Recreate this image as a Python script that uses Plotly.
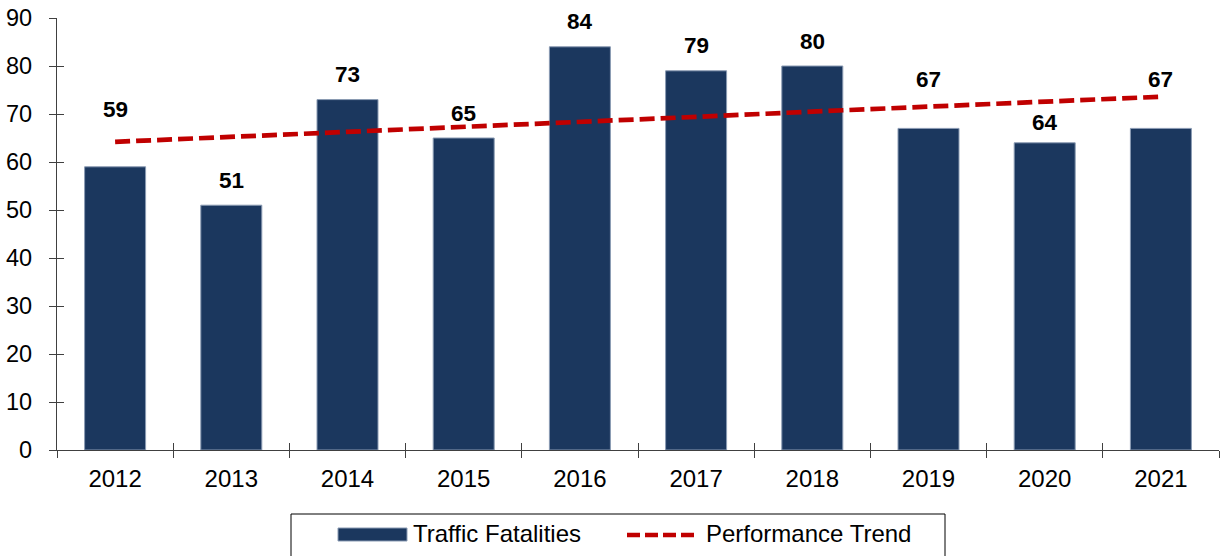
import plotly.graph_objects as go

years = ["2012", "2013", "2014", "2015", "2016", "2017", "2018", "2019", "2020", "2021"]
fatalities = [59, 51, 73, 65, 84, 79, 80, 67, 64, 67]
trend = [64.2, 65.2, 66.3, 67.3, 68.4, 69.4, 70.5, 71.5, 72.6, 73.6]
y_ticks = [0, 10, 20, 30, 40, 50, 60, 70, 80, 90]
series_names = ["Traffic Fatalities", "Performance Trend"]

label_shift = [57, 25, 25, 25, 25, 25, 25, 49, 20, 49]

FONT = "Liberation Sans, Arial, sans-serif"
BAR = "#1B375E"
RED = "#C00000"
AX = "#404040"

W, H = 1220, 556
L, T, R, B = 57, 18, 1, 106   # plot area: x 57..1219, y 18..450
PW, PH = W - L - R, H - T - B


def px(xpix):
    return (xpix - L) / PW


def py(ypix):
    return (H - B - ypix) / PH


fig = go.Figure()
fig.add_trace(go.Bar(
    x=years, y=fatalities, name=series_names[0],
    marker=dict(color=BAR, line=dict(color="#8A9BB3", width=1)),
    showlegend=False,
))
fig.add_trace(go.Scatter(
    x=years, y=trend, name=series_names[1], mode="lines",
    line=dict(color=RED, width=4.7, dash="15px,6px"),
    showlegend=False,
))

for i, (v, s) in enumerate(zip(fatalities, label_shift)):
    fig.add_annotation(x=i, y=v, xref="x", yref="y", text=f"<b>{v}</b>", showarrow=False,
                       yshift=s, font=dict(family=FONT, size=22.5, color="#000000"))

axis_common = dict(showgrid=False, zeroline=False, linecolor=AX, linewidth=1.3,
                   tickcolor=AX, tickwidth=1.3)
xr = [-0.5, len(years) - 0.5]

fig.update_layout(
    width=W, height=H,
    margin=dict(l=L, r=R, t=T, b=B, autoexpand=False),
    paper_bgcolor="white", plot_bgcolor="white",
    font=dict(family=FONT, size=24, color="#000000"),
    bargap=0.475,
    xaxis=dict(type="category", range=xr, showline=True, ticks="outside", ticklen=7,
               tickson="boundaries", tickangle=0, ticklabelstandoff=7,
               ticklabeloverflow="allow", tickfont=dict(size=24), **axis_common),
    yaxis=dict(range=[0, 90], tickvals=y_ticks, showline=True, ticks="outside", ticklen=7,
               ticklabelstandoff=12, ticklabeloverflow="allow", tickfont=dict(size=23.5),
               **axis_common),
    xaxis2=dict(type="category", range=xr, overlaying="x", showline=False, ticks="inside",
                ticklen=7, tickson="boundaries", showticklabels=False, side="bottom",
                anchor="y", **axis_common),
    yaxis2=dict(overlaying="y", range=[0, 90], tickvals=y_ticks, showline=False,
                ticks="inside", ticklen=7, showticklabels=False, anchor="x", **axis_common),
    showlegend=False,
)
# invisible trace that carries the overlay (inner tick) axes
fig.add_trace(go.Scatter(x=years, y=fatalities, xaxis="x2", yaxis="y2", mode="markers",
                         marker=dict(opacity=0), showlegend=False, hoverinfo="skip"))

# legend drawn as box, swatches and text
fig.add_shape(type="rect", xref="paper", yref="paper", x0=px(291), x1=px(945),
              y0=py(575), y1=py(514), line=dict(color="#000000", width=1), fillcolor="white")
fig.add_shape(type="rect", xref="paper", yref="paper", x0=px(338), x1=px(407),
              y0=py(541), y1=py(528), line=dict(color="#8A9BB3", width=1), fillcolor=BAR)
fig.add_shape(type="line", xref="paper", yref="paper", x0=px(627), x1=px(699),
              y0=py(535), y1=py(535), line=dict(color=RED, width=4.7, dash="13px,5px"))
fig.add_annotation(xref="paper", yref="paper", x=px(411), y=py(533), xanchor="left",
                   yanchor="middle", text=series_names[0], showarrow=False,
                   font=dict(family=FONT, size=24, color="#000000"))
fig.add_annotation(xref="paper", yref="paper", x=px(704), y=py(533), xanchor="left",
                   yanchor="middle", text=series_names[1], showarrow=False,
                   font=dict(family=FONT, size=24, color="#000000"))

fig.write_html("out.html", config={"displayModeBar": False},
               post_script="document.body.style.margin='0';document.body.style.overflow='hidden';")
